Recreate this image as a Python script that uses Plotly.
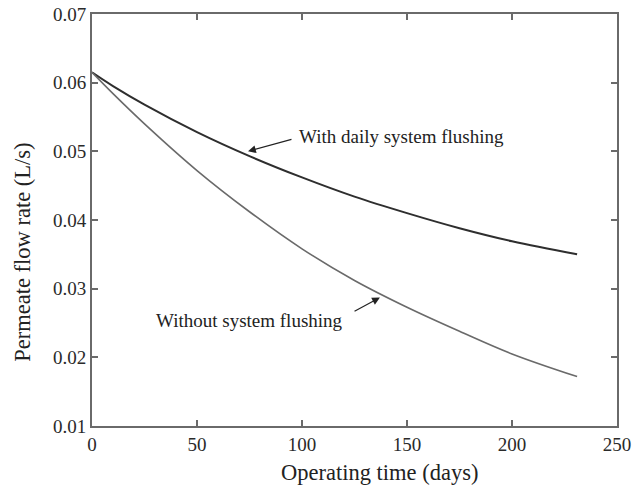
import plotly.graph_objects as go

days = [0, 10, 25, 50, 75, 100, 125, 150, 175, 200, 231]
with_flushing = [0.0615, 0.0595, 0.0568, 0.0528, 0.0493, 0.0462, 0.0434, 0.0410, 0.0388, 0.0369, 0.0350]
without_flushing = [0.0615, 0.0584, 0.0540, 0.0472, 0.0412, 0.0358, 0.0312, 0.0273, 0.0238, 0.0205, 0.0172]

x_ticks = [0, 50, 100, 150, 200, 250]
y_ticks = [0.01, 0.02, 0.03, 0.04, 0.05, 0.06, 0.07]

serif = "Liberation Serif"

fig = go.Figure()
fig.add_trace(go.Scatter(x=days, y=with_flushing, mode="lines",
                         line=dict(color="#2e2e2e", width=2, shape="spline"),
                         showlegend=False))
fig.add_trace(go.Scatter(x=days, y=without_flushing, mode="lines",
                         line=dict(color="#6a6a6a", width=1.6, shape="spline"),
                         showlegend=False))

axis_common = dict(showgrid=False, zeroline=False, showline=True, linecolor="#6a6a6a",
                   linewidth=2, mirror="ticks", ticks="inside", ticklen=6, tickwidth=1.5,
                   tickcolor="#6a6a6a", automargin=False,
                   tickfont=dict(family=serif, size=19, color="#2a2a2a"))

fig.update_xaxes(range=[0, 250], tickvals=x_ticks, ticktext=[str(v) for v in x_ticks],
                 **axis_common)
fig.update_yaxes(range=[0.01, 0.07], tickvals=y_ticks, ticktext=[f"{v:.2f}" for v in y_ticks],
                 **axis_common)

ann_font = dict(family=serif, size=19, color="#222222")
fig.add_annotation(x=74.3, y=0.0500, ax=95.7, ay=0.0518, xref="x", yref="y",
                   axref="x", ayref="y", text="", showarrow=True, arrowhead=2,
                   arrowsize=1.3, arrowwidth=1.2, arrowcolor="#222222")
fig.add_annotation(x=97.5, y=0.0522, xref="x", yref="y", text="With daily system flushing",
                   showarrow=False, xanchor="left", yanchor="middle", font=ann_font)
fig.add_annotation(x=137.1, y=0.0287, ax=124.3, ay=0.0266, xref="x", yref="y",
                   axref="x", ayref="y", text="", showarrow=True, arrowhead=2,
                   arrowsize=1.3, arrowwidth=1.2, arrowcolor="#222222")
fig.add_annotation(x=120.5, y=0.0254, xref="x", yref="y", text="Without system flushing",
                   showarrow=False, xanchor="right", yanchor="middle", font=ann_font)

title_font = dict(family=serif, size=22.5, color="#222222")
fig.add_annotation(x=0.547, y=-0.112, xref="paper", yref="paper", text="Operating time (days)",
                   showarrow=False, xanchor="center", yanchor="middle", font=title_font)
fig.add_annotation(x=-0.133, y=0.421, xref="paper", yref="paper", text="Permeate flow rate (L/s)",
                   showarrow=False, xanchor="center", yanchor="middle", textangle=-90,
                   font=title_font)

fig.update_layout(width=644, height=488, margin=dict(l=92, r=27, t=14, b=62),
                  plot_bgcolor="white", paper_bgcolor="white")

fig.write_html("out.html", config={"displayModeBar": False},
               post_script="document.body.style.margin='0';")
